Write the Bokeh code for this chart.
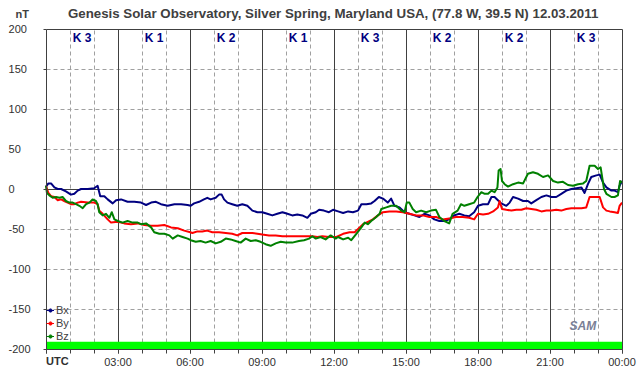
from bokeh.plotting import figure
from bokeh.models import (Range1d, FixedTicker, Grid, Label, Legend, LegendItem, LinearAxis)
from bokeh.embed import file_html
from bokeh.resources import INLINE

# ---------------- data ----------------
title_text = "Genesis Solar Observatory, Silver Spring, Maryland USA, (77.8 W, 39.5 N)  12.03.2011"
k_labels = ["K 3", "K 1", "K 2", "K 1", "K 3", "K 2", "K 2", "K 3"]
k_hours = [1.5, 4.5, 7.5, 10.5, 13.5, 16.5, 19.5, 22.5]
x_ticks = [0, 3, 6, 9, 12, 15, 18, 21, 24]
x_tick_labels = ["", "03:00", "06:00", "09:00", "12:00", "15:00", "18:00", "21:00", "00:00"]
y_ticks = [200, 150, 100, 50, 0, -50, -100, -150, -200]

bx_t = [0.0, 0.10, 0.21, 0.35, 0.49, 0.63, 0.83, 1.04, 1.18, 1.32,
        1.46, 1.74, 2.01, 2.15, 2.26, 2.43, 2.57, 2.78, 2.92, 3.13,
        3.40, 3.68, 3.96, 4.17, 4.38, 4.58, 4.79, 5.07, 5.35, 5.63,
        5.90, 6.03, 6.17, 6.38, 6.58, 6.72, 6.86, 7.07, 7.21, 7.32,
        7.42, 7.56, 7.76, 7.97, 8.18, 8.39, 8.60, 8.81, 9.01, 9.22,
        9.43, 9.64, 9.85, 10.06, 10.26, 10.47, 10.68, 10.89, 11.03, 11.24,
        11.38, 11.58, 11.79, 11.96, 12.17, 12.38, 12.59, 12.79, 13.0, 13.14,
        13.35, 13.55, 13.69, 13.87, 14.04, 14.24, 14.38, 14.52, 14.73, 14.94,
        15.14, 15.35, 15.56, 15.77, 15.97, 16.18, 16.39, 16.60, 16.80, 17.01,
        17.22, 17.43, 17.63, 17.84, 18.0, 18.21, 18.42, 18.56, 18.69, 18.83,
        18.97, 19.18, 19.32, 19.46, 19.67, 19.88, 20.08, 20.22, 20.43, 20.64,
        20.85, 21.06, 21.26, 21.47, 21.68, 21.89, 22.10, 22.31, 22.44, 22.58,
        22.72, 22.93, 23.07, 23.21, 23.35, 23.56, 23.69, 23.83, 23.90, 24.0]
bx_v = [3, 7, 7, 2, 0, 0, -3, -7, -6, -2,
        0, 0, 1, 4, -9, -9, -13, -18, -14, -13,
        -16, -16, -17, -20, -17, -16, -19, -21, -19, -19,
        -20, -21, -18, -16, -13, -11, -13, -11, -7, -7,
        -13, -17, -19, -21, -19, -21, -27, -29, -29, -31,
        -33, -31, -29, -31, -33, -32, -33, -36, -31, -29,
        -26, -27, -29, -26, -28, -30, -28, -29, -27, -19,
        -19, -18, -15, -10, -12, -17, -12, -21, -23, -29,
        -31, -33, -35, -31, -33, -38, -40, -40, -38, -33,
        -31, -33, -34, -29, -21, -19, -19, -10, -10, -14,
        -18, -21, -17, -10, -12, -15, -15, -18, -14, -10,
        -8, -10, -10, -6, -2, 0, 1, 2, -5, 6,
        15, 17, 18, 8, 2, -2, -2, -4, 4, 10]

by_t = [0.0, 0.10, 0.21, 0.35, 0.49, 0.63, 0.76, 0.90, 1.04, 1.18,
        1.32, 1.46, 1.74, 2.01, 2.15, 2.22, 2.36, 2.57, 2.71, 2.99,
        3.26, 3.54, 3.82, 4.10, 4.38, 4.65, 4.93, 5.21, 5.49, 5.76,
        6.01, 6.10, 6.31, 6.51, 6.72, 6.93, 7.21, 7.49, 7.76, 7.97,
        8.18, 8.39, 8.60, 8.81, 9.01, 9.29, 9.57, 9.85, 10.13, 10.40,
        10.68, 10.96, 11.10, 11.31, 11.51, 11.79, 12.10, 12.38, 12.65, 12.86,
        13.07, 13.21, 13.41, 13.62, 13.83, 14.04, 14.31, 14.59, 14.87, 15.14,
        15.42, 15.70, 15.97, 16.25, 16.53, 16.80, 17.08, 17.36, 17.63, 17.84,
        18.0, 18.21, 18.42, 18.63, 18.83, 18.90, 19.0, 19.18, 19.39, 19.60,
        19.81, 20.01, 20.22, 20.43, 20.64, 20.85, 21.06, 21.26, 21.47, 21.68,
        21.89, 22.10, 22.31, 22.51, 22.65, 22.86, 23.07, 23.21, 23.35, 23.49,
        23.69, 23.83, 23.90, 24.0]
by_v = [4, -5, -9, -10, -14, -13, -15, -17, -19, -19,
        -17, -16, -17, -17, -19, -27, -31, -38, -42, -41,
        -43, -44, -43, -45, -46, -46, -45, -48, -49, -52,
        -54, -55, -53, -53, -52, -54, -54, -55, -56, -58,
        -55, -55, -55, -56, -57, -58, -58, -59, -59, -59,
        -59, -59, -59, -60, -59, -60, -60, -56, -54, -54,
        -48, -44, -41, -38, -33, -29, -28, -28, -29, -31,
        -33, -33, -35, -35, -38, -37, -35, -35, -36, -38,
        -31, -32, -31, -28, -23, -15, -25, -26, -27, -26,
        -26, -24, -25, -26, -28, -27, -27, -26, -27, -25,
        -24, -24, -24, -23, -10, -10, -10, -23, -27, -28,
        -29, -30, -21, -17]

bz_t = [0.0, 0.04, 0.14, 0.28, 0.42, 0.56, 0.69, 0.83, 0.97, 1.11,
        1.25, 1.39, 1.53, 1.67, 1.81, 1.94, 2.08, 2.15, 2.22, 2.36,
        2.50, 2.64, 2.74, 2.85, 2.99, 3.19, 3.40, 3.61, 3.82, 3.96,
        4.17, 4.38, 4.51, 4.72, 4.93, 5.14, 5.28, 5.49, 5.69, 5.90,
        6.03, 6.24, 6.44, 6.65, 6.86, 7.07, 7.28, 7.49, 7.69, 7.90,
        8.11, 8.32, 8.53, 8.74, 8.94, 9.15, 9.36, 9.57, 9.78, 9.99,
        10.26, 10.54, 10.75, 10.96, 11.10, 11.24, 11.44, 11.65, 11.86, 12.07,
        12.17, 12.38, 12.59, 12.72, 12.93, 13.14, 13.28, 13.41, 13.55, 13.76,
        13.90, 13.97, 14.18, 14.38, 14.59, 14.80, 14.94, 15.03, 15.14, 15.28,
        15.42, 15.63, 15.84, 16.04, 16.25, 16.39, 16.60, 16.80, 16.94, 17.15,
        17.29, 17.43, 17.63, 17.84, 17.98, 18.14, 18.28, 18.42, 18.56, 18.69,
        18.81, 18.86, 18.94, 19.0, 19.11, 19.25, 19.46, 19.67, 19.88, 20.08,
        20.29, 20.50, 20.71, 20.92, 21.13, 21.33, 21.54, 21.75, 21.96, 22.17,
        22.38, 22.51, 22.65, 22.86, 23.0, 23.11, 23.25, 23.35, 23.56, 23.69,
        23.83, 23.92, 24.0]
bz_v = [4, -5, -8, -11, -10, -11, -10, -15, -17, -17,
        -19, -21, -24, -19, -17, -13, -15, -19, -29, -33,
        -31, -36, -29, -38, -40, -42, -40, -42, -42, -44,
        -43, -48, -54, -56, -56, -58, -62, -58, -60, -62,
        -64, -66, -65, -67, -65, -68, -66, -62, -63, -65,
        -67, -62, -65, -64, -66, -69, -71, -68, -66, -67,
        -67, -65, -64, -62, -59, -62, -60, -63, -58, -62,
        -60, -63, -61, -64, -56, -48, -42, -44, -40, -35,
        -31, -25, -23, -21, -21, -27, -29, -17, -17, -25,
        -29, -27, -29, -27, -26, -35, -40, -43, -31, -27,
        -19, -21, -19, -17, -10, -4, -6, -6, -2, -4,
        2, 23, 25, 10, 6, 3, 6, 8, 7, 19,
        21, 19, 15, 17, 10, 8, 9, 5, 4, 6,
        7, 10, 29, 29, 25, 27, 0, -6, -10, -10,
        -8, 10, 8]

# status band along the bottom
band_left = [0]
band_right = [24]
band_bottom = [-200]
band_top = [-191]

X0, X1 = 0, 24          # plotted time span (h)
Y0, Y1 = -200, 200      # plotted field span (nT)

FONT = "Liberation Sans"
DARK = "#404040"

# the frame covers the whole canvas; the chart box is drawn with fixed-location axes
p = figure(width=642, height=376,
           x_range=Range1d(-45.5 / 24.0, (642 - 45.5) / 24.0),
           y_range=Range1d(-234.375, 235.625),
           x_axis_type=None, y_axis_type=None,
           output_backend="svg", toolbar_location=None,
           min_border=0)
p.background_fill_color = "white"
p.border_fill_color = "white"
p.outline_line_color = None

# grids
hour_dashed = [h for h in range(1, 24) if h % 3 != 0]
p.add_layout(Grid(dimension=0, ticker=FixedTicker(ticks=hour_dashed), cross_bounds=(Y0, Y1),
                  grid_line_color="#a0a0a0", grid_line_dash="4 3"))
p.add_layout(Grid(dimension=1, ticker=FixedTicker(ticks=[-150, -100, -50, 50, 100, 150]),
                  cross_bounds=(X0, X1), grid_line_color="#a0a0a0", grid_line_dash="4 3"))
p.add_layout(Grid(dimension=0, ticker=FixedTicker(ticks=[3, 6, 9, 12, 15, 18, 21]),
                  cross_bounds=(Y0, Y1), grid_line_color=DARK, grid_line_width=1))
p.add_layout(Grid(dimension=1, ticker=FixedTicker(ticks=[0]), cross_bounds=(X0, X1),
                  grid_line_color=DARK, grid_line_width=1))

# green status band
p.quad(left=band_left, right=band_right, bottom=band_bottom, top=band_top,
       fill_color="#00ff00", line_color=None)

# axes (fixed to the chart box)
xaxis = LinearAxis(fixed_location=Y0, bounds=(X0, X1),
                   ticker=FixedTicker(ticks=x_ticks, minor_ticks=list(range(25))),
                   major_label_overrides={t: l for t, l in zip(x_ticks, x_tick_labels)},
                   major_tick_out=4, major_tick_in=0, minor_tick_out=4, minor_tick_in=0,
                   major_tick_line_color=DARK, minor_tick_line_color=DARK, axis_line_color=DARK,
                   major_label_text_font=FONT, major_label_text_font_size="11px",
                   major_label_text_color="#303030", major_label_standoff=3)
p.add_layout(xaxis, "below")
yaxis = LinearAxis(fixed_location=X0, bounds=(Y0, Y1), ticker=FixedTicker(ticks=y_ticks),
                   major_tick_out=3, major_tick_in=0, minor_tick_out=0, minor_tick_in=0,
                   major_tick_line_color=DARK, axis_line_color=DARK,
                   major_label_text_color=None)
p.add_layout(yaxis, "left")
top_axis = LinearAxis(fixed_location=Y1, bounds=(X0, X1), ticker=FixedTicker(ticks=[]),
                      major_tick_line_color=None, minor_tick_line_color=None,
                      axis_line_color=DARK, major_label_text_color=None)
p.add_layout(top_axis, "above")
right_axis = LinearAxis(fixed_location=X1, bounds=(Y0, Y1), ticker=FixedTicker(ticks=[]),
                        major_tick_line_color=None, minor_tick_line_color=None,
                        axis_line_color=DARK, major_label_text_color=None)
p.add_layout(right_axis, "right")

# y tick labels, left aligned like the reference
for v in y_ticks:
    p.add_layout(Label(x=-1.56, y=v, text=str(v), text_align="left", text_baseline="middle",
                       text_font=FONT, text_font_size="11px", text_color="#303030"))

# series
r_bx = p.line(bx_t, bx_v, line_color="#000080", line_width=2, line_join="round")
r_by = p.line(by_t, by_v, line_color="#ff0000", line_width=2, line_join="round")
r_bz = p.line(bz_t, bz_v, line_color="#008000", line_width=2, line_join="round")

# legend glyphs (thin line + dot), proxies kept invisible in the plot
items = []
for name, col, tt, vv in [("Bx", "#000080", bx_t, bx_v), ("By", "#ff0000", by_t, by_v),
                          ("Bz", "#008000", bz_t, bz_v)]:
    lr = p.line(tt, vv, line_color=col, line_width=1, visible=False)
    sr = p.scatter(tt, vv, marker="circle", size=4, fill_color=col, line_color=col, visible=False)
    items.append(LegendItem(label=name, renderers=[lr, sr]))
legend = Legend(items=items, location=(46, 34), glyph_width=8, glyph_height=12,
                label_height=12, spacing=1, padding=0, margin=0, label_standoff=2,
                label_text_font=FONT, label_text_font_size="11px", label_text_color=DARK,
                background_fill_alpha=0, border_line_color=None, inactive_fill_alpha=0)
p.add_layout(legend)

# K index labels
for h, k in zip(k_hours, k_labels):
    p.add_layout(Label(x=h, y=189, text=k, text_align="center", text_baseline="middle",
                       text_font=FONT, text_font_size="12px", text_font_style="bold",
                       text_color="#000080"))

# title and unit labels
p.add_layout(Label(x=12.04, y=219, text=title_text, text_align="center", text_baseline="middle",
                   text_font=FONT, text_font_size="13.3px", text_font_style="bold", text_color=DARK))
p.add_layout(Label(x=-0.99, y=219, text="nT", text_align="center", text_baseline="middle",
                   text_font=FONT, text_font_size="11px", text_font_style="bold", text_color=DARK))
p.add_layout(Label(x=0, y=-215, text="UTC", text_align="left", text_baseline="middle",
                   text_font=FONT, text_font_size="11px", text_font_style="bold", text_color="#303030"))

# SAM logo mark
p.add_layout(Label(x=22.37, y=-171, text="SAM", text_align="center", text_baseline="middle",
                   text_font=FONT, text_font_size="12px", text_font_style="bold italic",
                   text_color="#7a8096"))

open("out.html", "w").write(file_html(p, INLINE))
